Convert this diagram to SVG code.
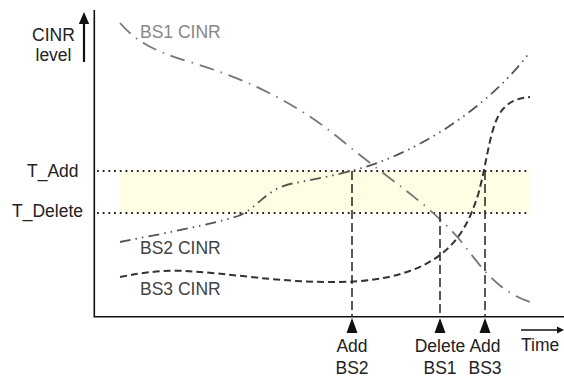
<svg xmlns="http://www.w3.org/2000/svg" width="564" height="377" viewBox="0 0 564 377">
<style>
text{font-family:"Liberation Sans",Arial,sans-serif;font-size:17.5px;fill:#222}
.g1{fill:#888}
.g2{fill:#444}
.axis{stroke:#111;stroke-width:1.6;fill:none}
.thr{stroke:#222;stroke-width:2;stroke-dasharray:1.8 3.9;fill:none}
.ev{stroke:#222;stroke-width:1.5;stroke-dasharray:9 4;fill:none}
.bs1{stroke:#777;stroke-width:1.8;stroke-dasharray:15 7 1.5 7;fill:none}
.bs2{stroke:#555;stroke-width:1.8;stroke-dasharray:11 5 1.5 5 1.5 5;fill:none}
.bs3{stroke:#333;stroke-width:2;stroke-dasharray:7 4;fill:none}
</style>
<g id="band">
<rect x="120" y="171" width="410" height="42" fill="#fffee4"/>
</g>
<g id="axes">
<path class="axis" d="M94.3,10 V316.7 H564"/>
<path d="M84,62 V22" stroke="#111" stroke-width="2.2"/>
<polygon points="84,12 78.8,24 89.2,24" fill="#111"/>
<path d="M521,330 H558" stroke="#111" stroke-width="1.5"/>
<polygon points="564,330 557,326.5 557,333.5" fill="#111"/>
<text x="53.5" y="40.5" text-anchor="middle">CINR</text>
<text x="53.5" y="61" text-anchor="middle">level</text>
<text x="521" y="351">Time</text>
</g>
<g id="thresholds">
<path class="thr" d="M97,171 H530"/>
<path class="thr" d="M97,213 H530"/>
<text x="27" y="177">T_Add</text>
<text x="12" y="217">T_Delete</text>
</g>
<g id="connectors">
<path class="bs1" d="M120,23 C135,40 150,50 190,62 C250,80 300,105 345,143 C390,180 430,205 460,240 C480,265 495,290 530,302"/>
<path class="bs2" d="M120,242 C160,234 210,225 238,216 C258,208 265,190 290,184 C320,178 350,173 380,162 C430,143 490,105 530,52"/>
<path class="bs3" d="M120,277 C145,272 165,270 185,271 C230,273 280,283 340,282 C390,281 420,270 440,255 C460,240 470,220 478,195 C488,160 490,120 505,107 C512,100 520,98 530,97"/>
<path class="ev" d="M352,171 V317"/>
<path class="ev" d="M440,213 V317"/>
<path class="ev" d="M485,171 V317"/>
</g>
<g id="bs1-label"><text class="g1" x="140" y="38">BS1 CINR</text></g>
<g id="bs2-label"><text class="g2" x="140" y="254">BS2 CINR</text></g>
<g id="bs3-label"><text class="g2" x="140" y="295">BS3 CINR</text></g>
<g id="add-bs2">
<polygon points="352,318 346.5,333 357.5,333" fill="#111"/>
<text x="352" y="352" text-anchor="middle">Add</text>
<text x="352" y="374" text-anchor="middle">BS2</text>
</g>
<g id="delete-bs1">
<polygon points="440,318 434.5,333 445.5,333" fill="#111"/>
<text x="440" y="352" text-anchor="middle">Delete</text>
<text x="440" y="374" text-anchor="middle">BS1</text>
</g>
<g id="add-bs3">
<polygon points="485,318 479.5,333 490.5,333" fill="#111"/>
<text x="485" y="352" text-anchor="middle">Add</text>
<text x="485" y="374" text-anchor="middle">BS3</text>
</g>
</svg>
